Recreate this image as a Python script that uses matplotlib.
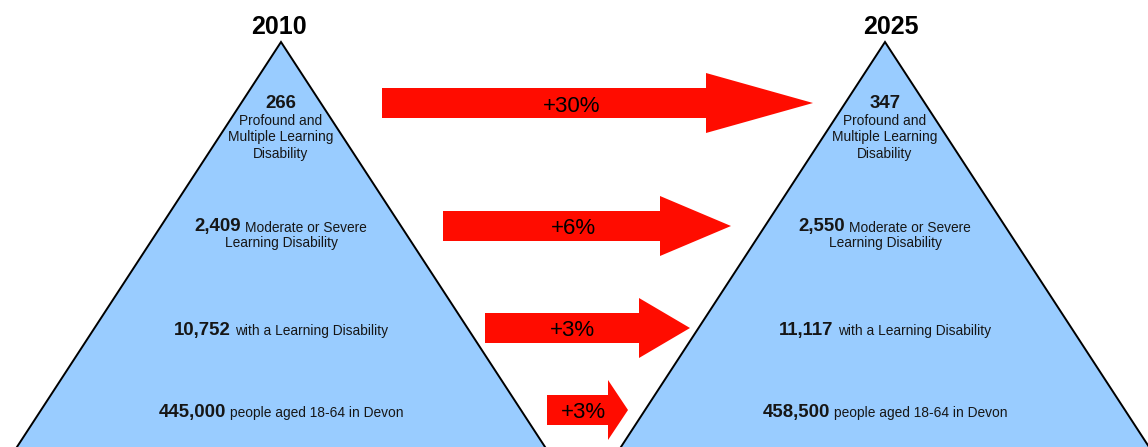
import matplotlib
matplotlib.use("Agg")
import matplotlib.pyplot as plt
from matplotlib.patches import Polygon

# ---- data -------------------------------------------------------------
years = ["2010", "2025"]
counts_2010 = [266, 2409, 10752, 445000]
counts_2025 = [347, 2550, 11117, 458500]
tier_labels = [
    "Profound and\nMultiple Learning\nDisability",
    "Moderate or Severe\nLearning Disability",
    "with a Learning Disability",
    "people aged 18-64 in Devon",
]

# ---- layout -----------------------------------------------------------
W, H = 1148, 447
FONT = "Liberation Sans"
TEXT_COL = "#161616"
FILL = "#99ccff"
RED = "#ff0c00"
BOLD_SIZE = 13.4
REG_SIZE = 9.9

apex_x = [281, 885]
apex_y = 42
slope = 0.652          # half-width growth per pixel of height

fig = plt.figure(figsize=(W / 100, H / 100), dpi=100)
ax = fig.add_axes([0, 0, 1, 1])
ax.set_xlim(0, W)
ax.set_ylim(H, 0)
ax.axis("off")
renderer = fig.canvas.get_renderer()

# pyramids
for cx in apex_x:
    bottom = H + 20
    half = slope * (bottom - apex_y)
    tri = Polygon([(cx, apex_y), (cx + half, bottom), (cx - half, bottom)],
                  closed=True, facecolor=FILL, edgecolor="black", lw=1.4,
                  joinstyle="miter", zorder=1)
    ax.add_patch(tri)

# year titles
for cx, yr, dx in zip(apex_x, years, [-2, 6]):
    ax.text(cx + dx, 34, yr, ha="center", va="baseline", fontsize=18,
            fontweight="bold", family=FONT, color="black")


def fmt(n):
    return f"{n:,}"


def pair_line(cx, base, bold, regular, gap=4):
    """Centre a bold number followed by regular text on one baseline."""
    t1 = ax.text(0, base, bold, ha="left", va="baseline", fontsize=BOLD_SIZE,
                 fontweight="bold", family=FONT, color=TEXT_COL, zorder=3)
    t2 = ax.text(0, base, regular, ha="left", va="baseline",
                 fontsize=REG_SIZE, family=FONT, color=TEXT_COL, zorder=3)
    w1 = t1.get_window_extent(renderer).width
    w2 = t2.get_window_extent(renderer).width
    x0 = cx - (w1 + gap + w2) / 2
    t1.set_x(x0)
    t2.set_x(x0 + w1 + gap)


def plain_line(cx, base, s):
    ax.text(cx, base, s, ha="center", va="baseline", fontsize=REG_SIZE,
            family=FONT, color=TEXT_COL, zorder=3)


for cx, counts in zip(apex_x, [counts_2010, counts_2025]):
    # top tier: number on its own line, description below
    ax.text(cx, 108.5, fmt(counts[0]), ha="center", va="baseline",
            fontsize=BOLD_SIZE, fontweight="bold", family=FONT,
            color=TEXT_COL, zorder=3)
    for i, line in enumerate(tier_labels[0].split("\n")):
        plain_line(cx, 125 + 16.5 * i, line)
    # second tier
    first, second = tier_labels[1].split("\n")
    pair_line(cx, 231.5, fmt(counts[1]), first)
    plain_line(cx, 247.5, second)
    # third and fourth tiers
    pair_line(cx, 335, fmt(counts[2]), tier_labels[2])
    pair_line(cx, 416.5, fmt(counts[3]), tier_labels[3])

# growth arrows
arrow_geom = [  # (x start, head start, tip, centre y)
    (382, 706, 813, 103),
    (443, 660, 731, 226),
    (485, 639, 690, 328),
    (547, 608, 628, 410),
]
label_x = [572, 573, 572, 583]
shaft_h, head_h = 15, 30
for (x0, xh, xt, yc), lx, a, b in zip(arrow_geom, label_x,
                                       counts_2010, counts_2025):
    pts = [(x0, yc - shaft_h), (xh, yc - shaft_h), (xh, yc - head_h),
           (xt, yc), (xh, yc + head_h), (xh, yc + shaft_h),
           (x0, yc + shaft_h)]
    ax.add_patch(Polygon(pts, closed=True, facecolor=RED, edgecolor="none",
                         zorder=2))
    pct = round((b - a) / a * 100)
    ax.text(lx, yc + 8.5, f"+{pct}%", ha="center", va="baseline",
            fontsize=16, family=FONT, color="black", zorder=3)

fig.savefig("out.png", dpi=100, facecolor="white")
